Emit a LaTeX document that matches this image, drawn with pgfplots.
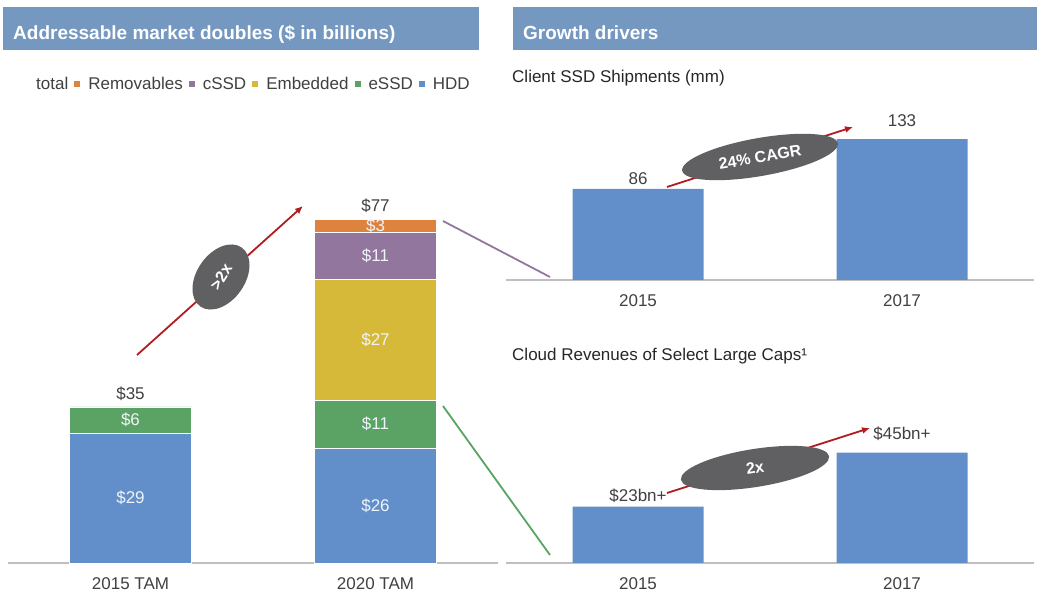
\documentclass[border=0pt]{standalone}
\usepackage{fontspec}
\setmainfont{Liberation Sans}
\usepackage{pgfplots}
\pgfplotsset{compat=1.18}
\usetikzlibrary{arrows.meta}

\definecolor{hdr}{RGB}{116,152,192}
\definecolor{hdd}{RGB}{98,143,202}
\definecolor{essd}{RGB}{90,163,100}
\definecolor{emb}{RGB}{214,185,56}
\definecolor{cssd}{RGB}{146,118,158}
\definecolor{remv}{RGB}{221,131,62}
\definecolor{txt}{RGB}{64,64,64}
\definecolor{axgray}{RGB}{191,191,191}
\definecolor{arr}{RGB}{178,28,32}
\definecolor{ell}{RGB}{96,96,98}

\newcommand\fs{\fontsize{17pt}{20pt}\selectfont}
\newcommand\sq[1]{{\color{#1}\raisebox{3pt}{\rule{6pt}{6pt}}}}

\pgfplotsset{
  panel/.style={
    scale only axis, anchor=south west, clip=false,
    xmin=-0.5, xmax=1.5, ymin=0,
    axis x line=bottom, axis y line=none,
    x axis line style={-, draw=axgray, line width=1.5pt},
    xtick={0,1}, major tick length=0pt, ytick=\empty,
    xticklabel style={font=\fs, text=txt, yshift=-11pt},
    point meta=explicit symbolic, nodes near coords,
  },
  % value labels above single bars, the later year sits a little higher
  toplabels/.style={
    visualization depends on=rawx \as \rawx,
    every node near coord/.style={anchor=south, font=\fs, text=txt, inner sep=4pt, yshift=\rawx*8pt},
  },
}

\begin{document}
\begin{tikzpicture}
\useasboundingbox (0,0) rectangle (1039pt,605pt);

% section headers
\fill[hdr] (3pt,555pt) rectangle (479pt,598pt);
\fill[hdr] (513pt,555pt) rectangle (1037pt,598pt);
\node[anchor=base west, inner sep=0, text=white, font=\fontsize{19pt}{22pt}\selectfont\bfseries]
  at (13pt,565.5pt) {Addressable market doubles (\$ in billions)};
\node[anchor=base west, inner sep=0, text=white, font=\fontsize{19pt}{22pt}\selectfont\bfseries]
  at (523pt,565.5pt) {Growth drivers};

% legend of the stacked chart
\node[anchor=base west, inner sep=0, font=\fs, text=txt] at (36pt,515pt)
  {total\hspace{6pt}\sq{remv}\hspace{8pt}Removables\hspace{6pt}\sq{cssd}\hspace{8pt}cSSD\hspace{6pt}\sq{emb}\hspace{8pt}Embedded\hspace{6pt}\sq{essd}\hspace{8pt}eSSD\hspace{6pt}\sq{hdd}\hspace{8pt}HDD};

% panel titles
\node[anchor=base west, inner sep=0, font=\fs, text=black!85] at (512pt,522pt) {Client SSD Shipments (mm)};
\node[anchor=base west, inner sep=0, font=\fs, text=black!85] at (512pt,244pt) {Cloud Revenues of Select Large Caps¹};

% left: stacked TAM
\begin{axis}[panel, at={(8pt,42pt)}, width=490pt, height=357pt, ymax=80,
  ybar stacked, bar width=122pt,
  xticklabels={2015 TAM, 2020 TAM},
  visualization depends on=rawy \as \rawy,
  every node near coord/.style={shift={(axis direction cs:0,-\rawy/2)}, anchor=center, font=\fs, text=white!90!hdd},
]
\addplot[fill=hdd, draw=white] coordinates {(0,29)[\$29] (1,25.8)[\$26]};
\addplot[fill=essd, draw=white] coordinates {(0,6)[\$6] (1,10.7)[\$11]};
\addplot[fill=emb, draw=white] coordinates {(0,0)[] (1,27)[\$27]};
\addplot[fill=cssd, draw=white] coordinates {(0,0)[] (1,10.7)[\$11]};
\addplot[fill=remv, draw=white] coordinates {(0,0)[] (1,2.8)[\$3]};
% totals
\node[anchor=south, font=\fs, text=txt, yshift=3pt] at (axis cs:0,35) {\$35};
\node[anchor=south, font=\fs, text=txt, yshift=3pt] at (axis cs:1,77) {\$77};
\end{axis}

% right top: client SSD shipments
\begin{axis}[panel, toplabels, at={(506pt,325pt)}, width=528pt, height=159pt, ymax=150,
  ybar, bar width=131pt,
  xticklabels={2015, 2017},
]
\addplot[fill=hdd, draw=none] coordinates {(0,86)[86] (1,133)[133]};
\end{axis}

% right bottom: cloud revenues
\begin{axis}[panel, toplabels, at={(506pt,42pt)}, width=528pt, height=122.5pt, ymax=50,
  ybar, bar width=131pt,
  xticklabels={2015, 2017},
]
\addplot[fill=hdd, draw=none] coordinates {(0,23)[\$23bn+] (1,45)[\$45bn+]};
\end{axis}

% connectors
\draw[cssd, line width=1.8pt] (443pt,384pt) -- (550pt,328pt);
\draw[essd, line width=1.8pt] (443pt,199pt) -- (550pt,50pt);

% growth arrows with badges
\draw[arr, line width=1.8pt, -{Latex[length=8pt,width=7pt]}] (137pt,250pt) -- (303pt,399pt);
\fill[ell, rotate around={55:(221pt,328pt)}] (221pt,328pt) ellipse (36pt and 24pt);
\node[rotate=58, text=white, font=\fontsize{16pt}{18pt}\selectfont\bfseries] at (221pt,328pt) {>2x};

\draw[arr, line width=1.8pt, -{Latex[length=8pt,width=7pt]}] (667pt,418pt) -- (853pt,478pt);
\fill[ell, rotate around={10:(760pt,448pt)}] (760pt,448pt) ellipse (79pt and 19pt);
\node[rotate=10, text=white, font=\fontsize{16pt}{18pt}\selectfont\bfseries] at (760pt,448pt) {24\% CAGR};

\draw[arr, line width=1.8pt, -{Latex[length=8pt,width=7pt]}] (667pt,112pt) -- (870pt,177pt);
\fill[ell, rotate around={9:(755pt,137pt)}] (755pt,137pt) ellipse (75pt and 19pt);
\node[rotate=9, text=white, font=\fontsize{16pt}{18pt}\selectfont\bfseries] at (755pt,137pt) {2x};
\end{tikzpicture}
\end{document}
